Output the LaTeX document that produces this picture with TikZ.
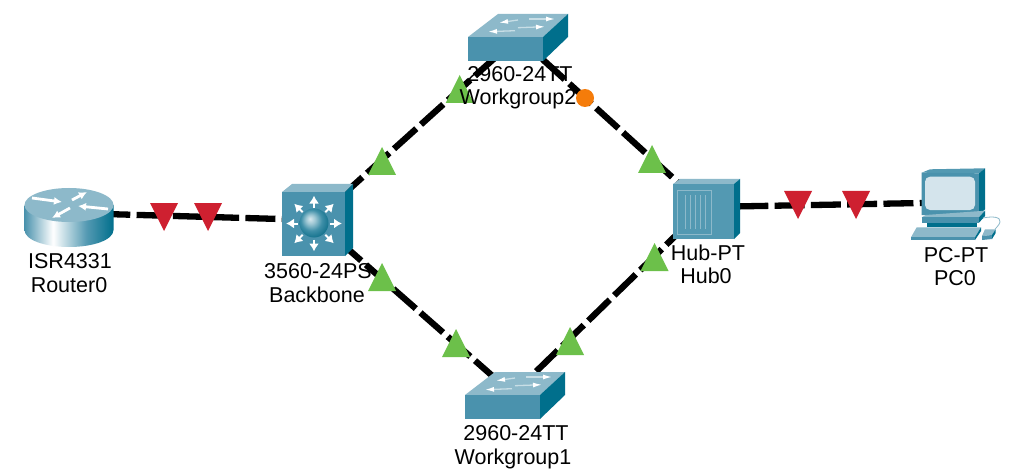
\documentclass[tikz,border=0pt]{standalone}
\usepackage{fontspec}
\setmainfont{Liberation Sans}
\usetikzlibrary{arrows.meta}
\definecolor{cTop}{HTML}{8DB9CA}
\definecolor{cFront}{HTML}{4A92AD}
\definecolor{cFrontB}{HTML}{5399B2}
\definecolor{cSide}{HTML}{006F8C}
\definecolor{cScreen}{HTML}{D4E4EC}
\definecolor{cGreen}{HTML}{6CC04A}
\definecolor{cRed}{HTML}{CE2030}
\definecolor{cOrange}{HTML}{F57C0A}
\definecolor{cTail}{HTML}{C8DEE6}
\definecolor{bA}{HTML}{D8E8EE}
\definecolor{bB}{HTML}{9CC6D3}
\definecolor{bC}{HTML}{3F8FA8}
\definecolor{bD}{HTML}{0F6F8A}
\pgfdeclarehorizontalshading{routerbody}{100bp}{color(0bp)=(cFront); color(25bp)=(cFront); color(41bp)=(white); color(60bp)=(cFrontB); color(75bp)=(cSide); color(100bp)=(cSide)}
\pgfdeclareradialshading{ballsh}{\pgfpoint{-7bp}{7.5bp}}{color(0bp)=(bA); color(8bp)=(bB); color(18bp)=(bC); color(30bp)=(bD); color(50bp)=(bD)}
\tikzset{
  anchorpt/.style={inner sep=0pt,minimum size=0pt,outer sep=0pt},
  link/.style={line width=6.3pt,black,dash pattern=on 30pt off 6.3pt,dash phase=#1},
  lab/.style={inner sep=0pt,anchor=base,font=\fontsize{21.5}{25}\selectfont,text=black},
  top/.style={fill=cTop},
  front/.style={fill=cFront},
  side/.style={fill=cSide},
  wa/.style={white,line width=2.8pt,-{Latex[length=8pt,width=8pt]}},
  wb/.style={cTail,line width=1.3pt,-{Latex[length=9pt,width=5pt,color=white]}},
  wc/.style={white,line width=2pt,-{Latex[length=8pt,width=10pt]}},
}
\newcommand{\upTri}[2]{\fill[cGreen] (#1-14,#2+14) -- (#1+14,#2+14) -- (#1,#2-14) -- cycle;}
\newcommand{\downTri}[2]{\fill[cRed] (#1-14,#2-14) -- (#1+14,#2-14) -- (#1,#2+14) -- cycle;}
\newcommand{\switchIcon}{%
  \fill[top] (0,23) -- (30,0) -- (100,0) -- (75,23) -- cycle;
  \fill[front] (0,23) rectangle (75,47);
  \fill[side] (75,23) -- (100,0) -- (100,23) -- (75,47) -- cycle;
  \draw[wb] (50,6) -- (31,8.7);
  \draw[wb] (61,5) -- (87,5);
  \draw[wb] (47,16.7) -- (20,17.7);
  \draw[wb] (50,13.7) -- (77,12.7);
}
\begin{document}
\begin{tikzpicture}[x=1pt,y=-1pt]
\useasboundingbox (0,0) rectangle (1034,476);
\fill[white] (0,0) rectangle (1034,476);
% anchors of the devices
\node[anchorpt] (r0) at (70,213) {};
\node[anchorpt] (bb) at (315,220) {};
\node[anchorpt] (wg2) at (518,37) {};
\node[anchorpt] (wg1) at (513,394) {};
\node[anchorpt] (hub) at (705,207) {};
\node[anchorpt] (pc) at (950,202.5) {};
% links
\draw[link=6pt] (r0.center) -- (bb.center);
\draw[link=2.5pt] (bb.center) -- (wg2.center);
\draw[link=4.75pt] (bb.center) -- (wg1.center);
\draw[link=3.2pt] (wg2.center) -- (hub.center);
\draw[link=3.85pt] (wg1.center) -- (hub.center);
\draw[link=3pt] (hub.center) -- (pc.center);
% router
\shade[shading=routerbody] (24.5,205) -- (24.5,230) .. controls (24.5,240) and (45,247) .. (69,247) .. controls (93,247) and (113.5,240) .. (113.5,230) -- (113.5,205) -- cycle;
\fill[top] (69,205) ellipse [x radius=44.5pt,y radius=17pt];
\draw[wa] (32,198) -- (62,202);
\draw[wa] (72,200) -- (87,192);
\draw[wa] (108,209) -- (78,206);
\draw[wa] (70,208) -- (52,218);
% backbone
\fill[top] (282,192) -- (292,184) -- (353,184) -- (345,192) -- cycle;
\fill[front] (282,192) rectangle (345,256);
\fill[side] (345,192) -- (353,184) -- (353,248) -- (345,256) -- cycle;
\foreach \a in {0,45,...,315}{
  \draw[wc] (314,223.5) ++(\a:16) -- ++(\a:12);
}
\shade[shading=ballsh] (314,223) circle (14.5pt);
% workgroup 2
\begin{scope}[shift={(468,14)}]\switchIcon\end{scope}
% workgroup 1
\begin{scope}[shift={(465,372)}]\switchIcon\end{scope}
% hub
\fill[top] (673,184) -- (680,179) -- (740,179) -- (734,184) -- cycle;
\fill[cFrontB] (673,184) rectangle (734,239);
\fill[side] (734,184) -- (740,179) -- (740,233) -- (734,239) -- cycle;
\draw[cTop,line width=0.8pt] (677.5,190.5) rectangle (711,234);
\foreach \x in {685,690,695,700,705}{\draw[cTop,line width=1pt] (\x,195) -- (\x,229);}
% PC
\fill[cFrontB] (921.7,172.7) -- (930,169.3) -- (985,168.3) -- (979,173.3) -- cycle;
\fill[cFront] (921.7,172.7) -- (979,173.3) -- (979,215) -- (921.7,215) -- cycle;
\fill[side] (979,173.3) -- (985,168.3) -- (985,209.3) -- (979,215) -- cycle;
\fill[cScreen,rounded corners=5pt] (925,176.7) rectangle (975,210);
\fill[cTop] (921.7,217.3) -- (925.7,215) -- (985,210.7) -- (979,217.3) -- cycle;
\fill[cFront] (921.7,217.3) rectangle (979,222.7);
\fill[side] (979,217.3) -- (985,210.7) -- (985,216) -- (979,222.7) -- cycle;
\fill[side] (926.7,222.7) rectangle (976.7,227.3);
\fill[cTop] (916.7,227.3) -- (981,227.3) -- (975,237.3) -- (911,237.3) -- cycle;
\fill[cFront] (911,237.3) rectangle (975,240);
\fill[side] (975,237.3) -- (981,227.3) -- (981,231) -- (975,240) -- cycle;
\draw[cTop,line width=0.8pt] (983,218) .. controls (993,216) and (1001,217) .. (1000,222) .. controls (999,226) and (996,227) .. (995,229.3);
\fill[cTop] (985,229.3) -- (995.7,229.3) -- (992,235) -- (982,236) -- cycle;
\fill[cFront] (982,236) -- (992,235) -- (992,239) -- (982,240) -- cycle;
\fill[side] (992,235) -- (995.7,229.3) -- (995.7,233) -- (992,239) -- cycle;
% labels below the triangles
\node[lab] (bbA) at (318,278) {3560-24PS};
\node[lab] (bbB) at (317,302.7) {Backbone};
% state markers
\downTri{164}{217}
\downTri{208}{217}
\downTri{798}{205}
\downTri{856}{205}
\upTri{382}{161}
\upTri{382}{277}
\upTri{459.7}{89}
\upTri{652}{159}
\upTri{456}{343}
\upTri{570}{341}
\upTri{654.5}{257}
\node[circle,fill=cOrange,minimum size=18pt,inner sep=0pt] (dot) at (585,98) {};
% labels
\node[lab] (rA) at (70,268) {ISR4331};
\node[lab] (rB) at (69,292.7) {Router0};
\node[lab] (w2A) at (520,81.7) {2960-24TT};
\node[lab] (w2B) at (518,105) {Workgroup2};
\node[lab] (w1A) at (516,440) {2960-24TT};
\node[lab] (w1B) at (513,464) {Workgroup1};
\node[lab] (hA) at (708,260) {Hub-PT};
\node[lab] (hB) at (706,283.3) {Hub0};
\node[lab] (pA) at (956,262.7) {PC-PT};
\node[lab] (pB) at (955,285) {PC0};
\end{tikzpicture}
\end{document}
